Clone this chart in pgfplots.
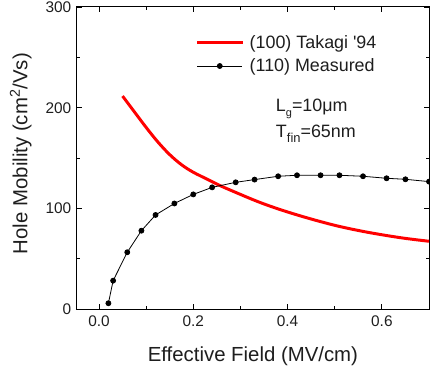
\documentclass[border=0pt]{standalone}
\usepackage{fontspec}
\setmainfont{Liberation Sans}
\usepackage{pgfplots}
\pgfplotsset{compat=1.18}

\definecolor{redline}{RGB}{255,0,0}
\definecolor{txt}{RGB}{30,30,30}

\begin{document}
\begin{tikzpicture}
% fixed page area around the plot box
\path[use as bounding box] (-77bp,-62bp) rectangle (354bp,310bp);
\begin{axis}[
  at={(0,0)}, anchor=south west,
  scale only axis,
  width=353bp, height=303bp,
  xmin=-0.047, xmax=0.7,
  ymin=0, ymax=300,
  xtick={0,0.2,0.4,0.6},
  minor xtick={0.1,0.3,0.5},
  ytick={0,100,200,300},
  minor ytick={50,150,250},
  xticklabel style={/pgf/number format/fixed,/pgf/number format/fixed zerofill,/pgf/number format/precision=1},
  /pgf/number format/assume math mode=true,
  tick label style={font=\fontsize{15.5}{16}\selectfont, text=txt},
  xticklabel style={yshift=-3bp},
  yticklabel style={xshift=-2bp},
  tick align=inside,
  major tick length=5bp,
  minor tick length=3bp,
  axis line style={line width=1pt, black},
  every tick/.style={black, line width=0.9pt},
  clip=false,
  every axis x label/.style={at={(axis description cs:0.5,-0.155)}, anchor=center},
  every axis y label/.style={at={(axis description cs:-0.159,0.515)}, rotate=90, anchor=center},
  label style={font=\fontsize{20.5}{22}\selectfont, text=txt},
  xlabel={Effective Field (MV/cm)},
  ylabel={Hole Mobility (cm\textsuperscript{2}/Vs)},
  legend style={draw=none, fill=none, at={(axis cs:0.205,274)}, anchor=north west,
    font=\fontsize{18}{20}\selectfont, text=txt, row sep=5bp,
    inner sep=0pt, nodes={inner sep=2pt},
    /tikz/every odd column/.append style={column sep=4bp}},
  legend cell align=left,
  legend image code/.code={%
    \draw[mark repeat=2,mark phase=2,#1] plot coordinates {(0bp,0bp) (22.5bp,0bp) (45bp,0bp)};},
]
\addplot[redline, line width=3pt, no marks, smooth, tension=0.6] coordinates {
  (0.050,211.6) (0.075,196.0) (0.100,180.5) (0.125,166.0) (0.150,153.5)
  (0.175,143.5) (0.200,136.0) (0.230,129.0) (0.257,122.7) (0.300,114.0)
  (0.340,106.3) (0.382,99.3) (0.427,92.7) (0.470,87.0) (0.512,82.0)
  (0.569,76.5) (0.640,71.0) (0.700,67.5)
};
\addlegendentry{(100) Takagi \textquotesingle94}
\addplot[black, line width=0.8pt, mark=*, mark size=2.5bp, mark options={fill=black}] coordinates {
  (0.02,6) (0.03,28.4) (0.06,56.6) (0.09,78) (0.12,93.6) (0.16,105)
  (0.20,114) (0.24,121) (0.29,126) (0.33,128.7) (0.38,132) (0.42,133)
  (0.47,133) (0.51,133) (0.56,132) (0.61,130) (0.65,129) (0.70,126.7)
};
\addlegendentry{(110) Measured}
\node[anchor=base west, font=\fontsize{18}{20}\selectfont, text=txt, inner sep=0pt]
  at (axis cs:0.375,196) {L\raisebox{-0.45ex}{\fontsize{11}{11}\selectfont g}=10μm};
\node[anchor=base west, font=\fontsize{18}{20}\selectfont, text=txt, inner sep=0pt]
  at (axis cs:0.375,170) {T\raisebox{-0.45ex}{\fontsize{13}{13}\selectfont fin}=65nm};
\end{axis}
\end{tikzpicture}
\end{document}
